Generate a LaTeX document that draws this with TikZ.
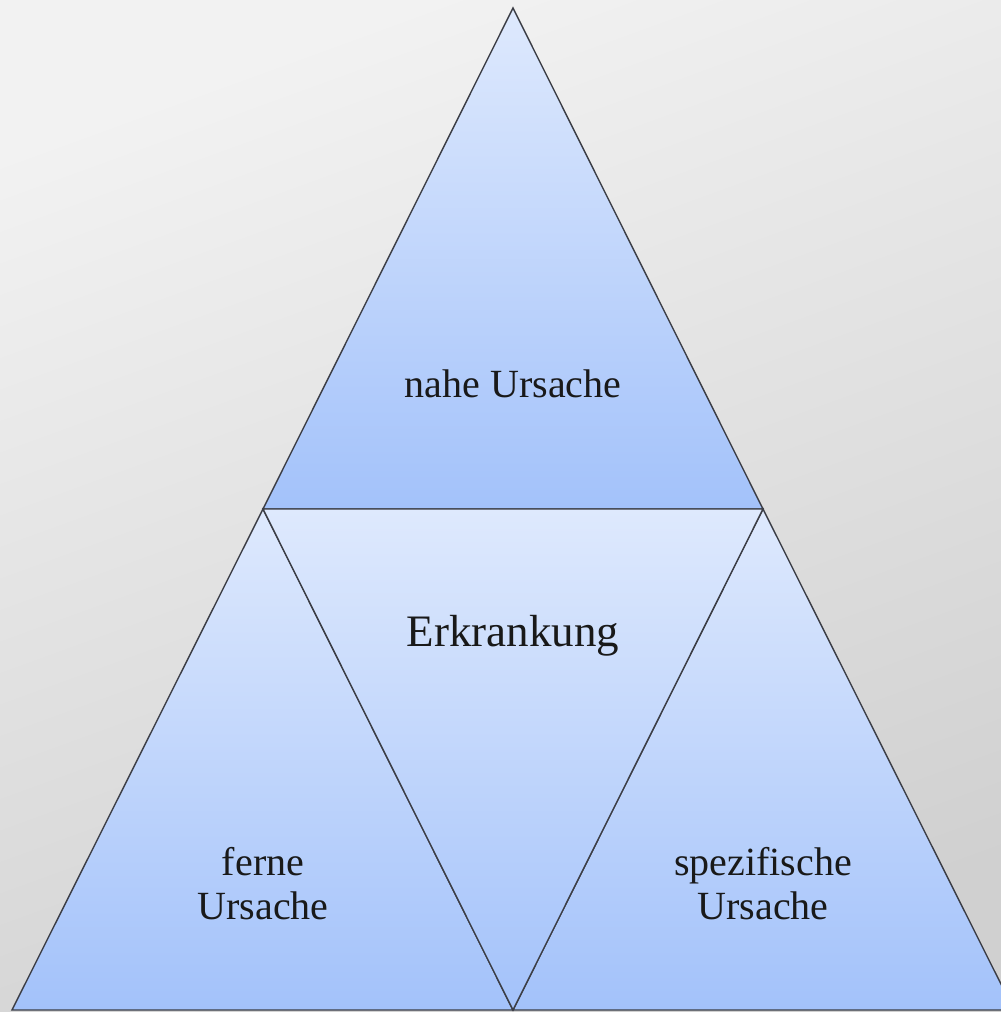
\documentclass[tikz,border=0pt]{standalone}
\usepackage{fontspec}
\setmainfont{Liberation Serif}
\definecolor{bglight}{RGB}{242,242,242}
\definecolor{bgdark}{RGB}{208,208,208}
\definecolor{trilight}{RGB}{222,233,253}
\definecolor{tridark}{RGB}{163,194,250}
\definecolor{triline}{RGB}{60,62,70}
\tikzstyle{tri} = [draw=triline, line width=1.4pt, line join=miter, top color=trilight, bottom color=tridark]
\tikzstyle{cause} = [font={\fontsize{40}{44}\selectfont}, align=center, text=black!90]
\tikzstyle{disease} = [cause, font={\fontsize{45}{50}\selectfont}]

\begin{document}
\begin{tikzpicture}[x=1pt,y=-1pt]
        \clip (0,0) rectangle (1001,1012);
        \shade[shading=axis, top color=bglight, bottom color=bgdark, shading angle=20] (0,0) rectangle (1001,1012);
        \coordinate (top) at (513,8);
        \coordinate (ml) at (263,509);
        \coordinate (mr) at (763,509);
        \coordinate (bl) at (12,1010);
        \coordinate (bm) at (513,1010);
        \coordinate (br) at (1014,1010);
        \shade[tri] (top)--(mr)--(ml)--cycle;
        \shade[tri] (ml)--(bm)--(bl)--cycle;
        \shade[tri] (mr)--(br)--(bm)--cycle;
        \shade[tri] (ml)--(mr)--(bm)--cycle;
        \node[cause](nahe) at (513,384){nahe Ursache};
        \node[disease](erkr) at (513,636){Erkrankung};
        \node[cause](ferne) at (263,884){ferne\\Ursache};
        \node[cause](spez) at (763,884){spezifische\\Ursache};
      \end{tikzpicture}
\end{document}
